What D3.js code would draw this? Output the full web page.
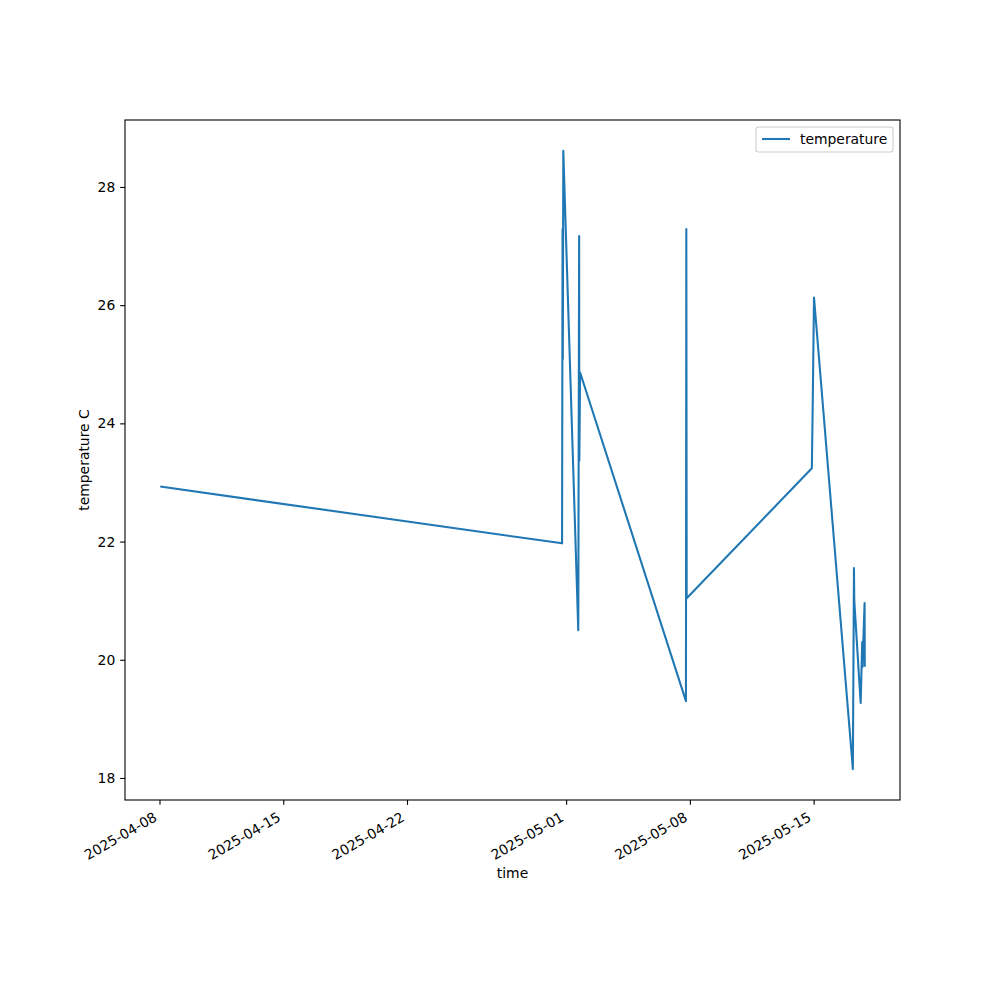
<!DOCTYPE html>
<html><head><meta charset="utf-8">
<script src="https://cdn.jsdelivr.net/npm/d3@7"></script>
<style>body{margin:0;background:#fff}svg{display:block}text{font-family:"DejaVu Sans",sans-serif}</style>
</head><body>
<svg id="c" width="1000" height="1000"></svg>
<script>
const times = [
 "2025-04-08T01:00","2025-04-30T18:30","2025-04-30T19:10","2025-04-30T19:30","2025-04-30T20:10",
 "2025-05-01T16:30","2025-05-01T17:40","2025-05-01T17:55","2025-05-01T19:00",
 "2025-05-07T18:40","2025-05-07T19:10","2025-05-07T19:40",
 "2025-05-14T21:35","2025-05-14T22:50","2025-05-15T00:30",
 "2025-05-17T05:15","2025-05-17T06:45","2025-05-17T07:10","2025-05-17T15:50",
 "2025-05-17T18:00","2025-05-17T18:15","2025-05-17T21:10","2025-05-17T21:25"
];
const temperature = [
 22.93,21.97,27.29,25.09,28.61,
 20.50,27.17,23.37,24.86,
 19.30,27.29,21.04,
 23.24,24.4,26.13,
 18.15,21.55,21.0,19.27,
 20.30,19.88,20.96,19.88
];
const xTickLabels = ["2025-04-08","2025-04-15","2025-04-22","2025-05-01","2025-05-08","2025-05-15"];
const yTicks = [18,20,22,24,26,28];

const FS = "13.9px";
const parse = d3.timeParse("%Y-%m-%dT%H:%M");
const data = times.map((t,i)=>({t:parse(t), v:temperature[i]}));
const L=125,R=900,T=120,B=800;
const svg = d3.select("#c");
const tExt = d3.extent(data,d=>d.t), tr = tExt[1]-tExt[0];
const x = d3.scaleTime().domain([new Date(+tExt[0]-0.05*tr), new Date(+tExt[1]+0.05*tr)]).range([L,R]);
const vExt = d3.extent(data,d=>d.v), vr = vExt[1]-vExt[0];
const y = d3.scaleLinear().domain([vExt[0]-0.05*vr, vExt[1]+0.05*vr]).range([B,T]);

svg.append("path").datum(data)
 .attr("d", d3.line().x(d=>x(d.t)).y(d=>y(d.v)))
 .attr("fill","none").attr("stroke","#1f77b4").attr("stroke-width",2.08)
 .attr("stroke-linejoin","round").attr("stroke-linecap","butt");

// y axis
const ya = svg.append("g").attr("transform",`translate(${L},0)`)
 .call(d3.axisLeft(y).tickValues(yTicks).tickSize(4.86).tickPadding(4.86).tickFormat(d3.format("d")));
ya.select(".domain").remove();
ya.selectAll("line").attr("stroke","#000").attr("stroke-width",1.1);
ya.selectAll("text").attr("font-size",FS).attr("fill","#000").attr("font-family","DejaVu Sans");

// x axis
const xTicks = xTickLabels.map(s=>d3.timeParse("%Y-%m-%d")(s));
const xa = svg.append("g").attr("transform",`translate(0,${B})`)
 .call(d3.axisBottom(x).tickValues(xTicks).tickSize(4.86).tickFormat(d3.timeFormat("%Y-%m-%d")));
xa.select(".domain").remove();
xa.selectAll("line").attr("stroke","#000").attr("stroke-width",1.1);
xa.selectAll("text").attr("font-size",FS).attr("fill","#000").attr("font-family","DejaVu Sans")
 .attr("text-anchor","end").attr("dy",null).attr("y",null)
 .attr("transform","translate(-2,20) rotate(-30)");

// frame
svg.append("rect").attr("x",L).attr("y",T).attr("width",R-L).attr("height",B-T)
 .attr("fill","none").attr("stroke","#000").attr("stroke-width",1.1);

svg.append("text").attr("x",(L+R)/2).attr("y",878).attr("text-anchor","middle")
 .attr("font-size",FS).text("time");
svg.append("text").attr("transform",`translate(89,${(T+B)/2}) rotate(-90)`).attr("text-anchor","middle")
 .attr("font-size",FS).text("temperature C");

// legend
const lg = svg.append("g");
lg.append("rect").attr("x",756).attr("y",127).attr("width",137).attr("height",25).attr("rx",2.5)
 .attr("fill","#fff").attr("fill-opacity",0.8).attr("stroke","#ccc").attr("stroke-width",1.1);
lg.append("line").attr("x1",762).attr("x2",790).attr("y1",139).attr("y2",139)
 .attr("stroke","#1f77b4").attr("stroke-width",2.08);
lg.append("text").attr("x",800).attr("y",143.5).attr("font-size",FS).text("temperature");
</script>
</body></html>
